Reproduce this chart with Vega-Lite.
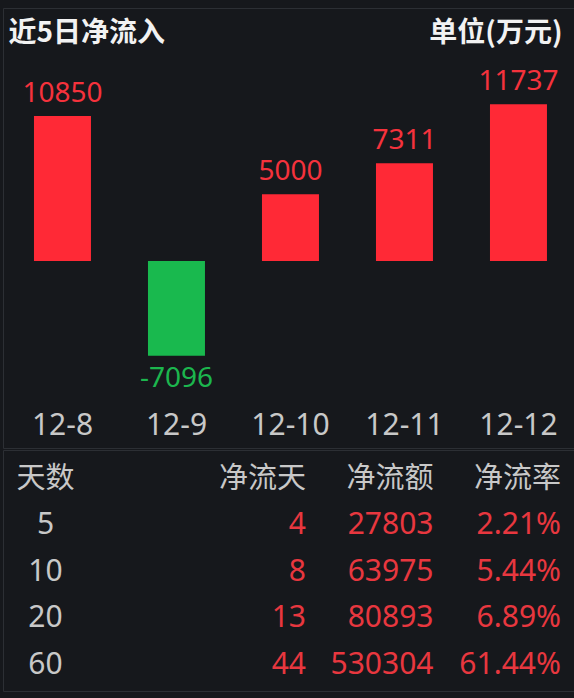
{
  "$schema": "https://vega.github.io/schema/vega-lite/v6.json",
  "background": "#16181c",
  "padding": {"top": 7, "left": 2, "right": 0, "bottom": 10},
  "spacing": 0,
  "config": {
    "view": {"stroke": "#2c2f34", "strokeWidth": 1},
    "font": "Noto Sans, Noto Sans CJK SC"
  },
  "datasets": {
    "flow": [
      {"date": "12-8", "value": 10850},
      {"date": "12-9", "value": -7096},
      {"date": "12-10", "value": 5000},
      {"date": "12-11", "value": 7311},
      {"date": "12-12", "value": 11737}
    ],
    "header": [
      {"col": "天数"},
      {"col": "净流天"},
      {"col": "净流额"},
      {"col": "净流率"}
    ],
    "stats": [
      {"days": "5", "净流天": "4", "净流额": "27803", "净流率": "2.21%"},
      {"days": "10", "净流天": "8", "净流额": "63975", "净流率": "5.44%"},
      {"days": "20", "净流天": "13", "净流额": "80893", "净流率": "6.89%"},
      {"days": "60", "净流天": "44", "净流额": "530304", "净流率": "61.44%"}
    ]
  },
  "vconcat": [
    {
      "width": 572,
      "height": 440,
      "data": {"name": "flow"},
      "encoding": {
        "x": {
          "field": "date",
          "type": "nominal",
          "sort": null,
          "scale": {"paddingInner": 0.5, "paddingOuter": 0.2588, "align": 0.525},
          "axis": {
            "orient": "bottom",
            "offset": -40,
            "title": null,
            "domain": false,
            "ticks": false,
            "tickSize": 0,
            "grid": false,
            "labelPadding": 26,
            "labelBaseline": "alphabetic",
            "labelFontSize": 30,
            "labelColor": "#c8c8c8",
            "labelAngle": 0,
            "labelFont": "Noto Sans"
          }
        }
      },
      "layer": [
        {
          "mark": {"type": "bar"},
          "encoding": {
            "y": {
              "field": "value",
              "type": "quantitative",
              "scale": {"domain": [-13993, 18932], "nice": false, "zero": false},
              "axis": {
                "orient": "left",
                "title": "近5日净流入",
                "labels": false,
                "ticks": false,
                "domain": false,
                "grid": false,
                "titleAngle": 0,
                "titleAlign": "left",
                "titleBaseline": "alphabetic",
                "titleX": 5,
                "titleY": 33,
                "titleFontSize": 28,
                "titleFontWeight": "bold",
                "titleColor": "#f2f2f2",
                "titleFont": "Noto Sans CJK SC"
              }
            },
            "color": {
              "condition": {"test": "datum.value > 0", "value": "#ff2936"},
              "value": "#19b94e"
            }
          }
        },
        {
          "transform": [{"filter": "datum.value > 0"}],
          "mark": {"type": "text", "baseline": "alphabetic", "dy": -14, "fontSize": 28, "color": "#f5323c", "font": "Noto Sans"},
          "encoding": {
            "y": {
              "field": "value",
              "type": "quantitative",
              "scale": {"domain": [-13993, 18932], "nice": false, "zero": false},
              "axis": {
                "orient": "right",
                "title": "单位(万元)",
                "labels": false,
                "ticks": false,
                "domain": false,
                "grid": false,
                "titleAngle": 0,
                "titleAlign": "right",
                "titleBaseline": "alphabetic",
                "titleX": -13,
                "titleY": 33,
                "titleFontSize": 28,
                "titleFontWeight": "bold",
                "titleColor": "#f2f2f2",
                "titleFont": "Noto Sans CJK SC"
              }
            },
            "text": {"field": "value", "type": "nominal"}
          }
        },
        {
          "transform": [{"filter": "datum.value < 0"}],
          "mark": {"type": "text", "baseline": "alphabetic", "dy": 31, "fontSize": 28, "color": "#1cb64e", "font": "Noto Sans"},
          "encoding": {
            "y": {
              "field": "value",
              "type": "quantitative",
              "scale": {"domain": [-13993, 18932], "nice": false, "zero": false},
              "axis": null
            },
            "text": {"field": "value", "type": "nominal"}
          }
        }
      ],
      "resolve": {"axis": {"y": "independent"}}
    },
    {
      "width": 572,
      "height": 241,
      "layer": [
        {
          "data": {"name": "header"},
          "transform": [{"filter": "datum.col === '天数'"}],
          "mark": {"type": "text", "align": "center", "baseline": "middle", "dx": -133, "fontSize": 29, "color": "#c8c8c8", "font": "Noto Sans CJK SC"},
          "encoding": {
            "x": {"field": "col", "type": "nominal", "scale": {"type": "point", "domain": ["天数", "净流天", "净流额", "净流率"], "padding": 0.743, "align": 0.926}, "axis": null},
            "y": {"datum": "header", "type": "nominal", "scale": {"type": "point", "domain": ["header", "5", "10", "20", "60"], "padding": 0.591, "align": 0.527}, "axis": null},
            "text": {"field": "col", "type": "nominal"}
          }
        },
        {
          "data": {"name": "header"},
          "transform": [{"filter": "datum.col !== '天数'"}],
          "mark": {"type": "text", "align": "right", "baseline": "middle", "fontSize": 29, "color": "#c8c8c8", "font": "Noto Sans CJK SC"},
          "encoding": {
            "x": {"field": "col", "type": "nominal", "scale": {"type": "point", "domain": ["天数", "净流天", "净流额", "净流率"], "padding": 0.743, "align": 0.926}, "axis": null},
            "y": {"datum": "header", "type": "nominal", "scale": {"type": "point", "domain": ["header", "5", "10", "20", "60"], "padding": 0.591, "align": 0.527}, "axis": null},
            "text": {"field": "col", "type": "nominal"}
          }
        },
        {
          "data": {"name": "stats"},
          "mark": {"type": "text", "align": "center", "baseline": "middle", "dx": -133, "fontSize": 30, "color": "#c8c8c8", "font": "Noto Sans"},
          "encoding": {
            "x": {"datum": "天数", "type": "nominal", "scale": {"type": "point", "domain": ["天数", "净流天", "净流额", "净流率"], "padding": 0.743, "align": 0.926}, "axis": null},
            "y": {"field": "days", "type": "nominal", "scale": {"type": "point", "domain": ["header", "5", "10", "20", "60"], "padding": 0.591, "align": 0.527}, "axis": null},
            "text": {"field": "days", "type": "nominal"}
          }
        },
        {
          "data": {"name": "stats"},
          "transform": [{"fold": ["净流天", "净流额", "净流率"], "as": ["col", "val"]}],
          "mark": {"type": "text", "align": "right", "baseline": "middle", "fontSize": 30, "color": "#e8373f", "font": "Noto Sans"},
          "encoding": {
            "x": {"field": "col", "type": "nominal", "scale": {"type": "point", "domain": ["天数", "净流天", "净流额", "净流率"], "padding": 0.743, "align": 0.926}, "axis": null},
            "y": {"field": "days", "type": "nominal", "scale": {"type": "point", "domain": ["header", "5", "10", "20", "60"], "padding": 0.591, "align": 0.527}, "axis": null},
            "text": {"field": "val", "type": "nominal"}
          }
        }
      ]
    }
  ]
}
